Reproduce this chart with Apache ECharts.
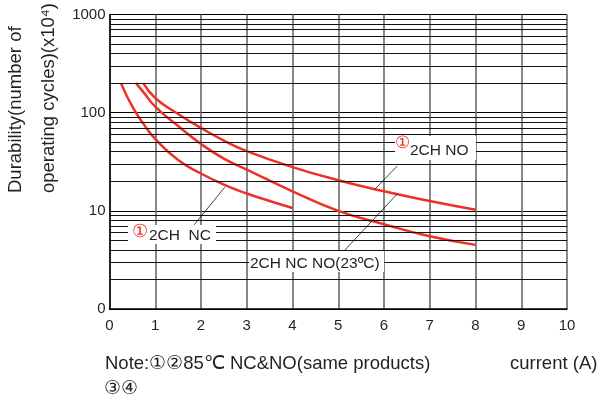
<!DOCTYPE html>
<html>
<head>
<meta charset="UTF-8">
<title>Durability vs current</title>
<script src="https://cdn.jsdelivr.net/npm/echarts@6/dist/echarts.min.js"></script>
</head>
<body style="margin:0">
<div id="main" style="width:601px;height:400px;"></div>
<script type="text/javascript">
// x axis: current (A)
var xMin = 0, xMax = 10;
// y axis: durability (x10^4), log scale, bottom labelled "0"
var yTickLabels = { 1: '0', 10: '10', 100: '100', 1000: '1000' };
var minorLines = [2, 3, 4, 5, 6, 7, 8, 9, 20, 30, 40, 50, 60, 70, 80, 90, 200, 300, 400, 500, 600, 700, 800, 900];

// 2CH NC, 85°C (lowest curve)
var nc85X = [0.25, 0.5, 0.75, 1, 1.5, 2, 2.5, 3, 3.5, 4];
var nc85Y = [200, 115, 76, 54, 33, 24, 18.5, 15, 12.6, 10.7];
// middle curve
var no85X = [0.58, 0.75, 1, 1.5, 2, 2.5, 3, 4, 5, 6, 7, 8];
var no85Y = [200, 160, 115, 73, 48, 34, 26.3, 15.8, 10, 7.3, 5.5, 4.5];
// top curve
var ncno23X = [0.74, 1, 1.5, 2, 2.5, 3, 4, 5, 6, 7, 8];
var ncno23Y = [200, 141, 97, 70, 52, 40.6, 27.9, 20.5, 15.8, 12.6, 10.25];

// leader lines [x1, y1, x2, y2] in data units
var leaders = [
    [1.85, 7.2, 2.52, 17.4],
    [6.29, 28.6, 5.8, 16.6],
    [5.08, 3.7, 6.29, 14.9]
];

function pairs(xs, ys) {
    return xs.map(function (x, i) { return [x, ys[i]]; });
}

var RED = '#ee3124';
var TXT = '#231f20';
var FONT = "'Liberation Sans', Arial, sans-serif";

function curve(name, xs, ys) {
    return {
        name: name,
        type: 'line',
        smooth: 0.5,
        symbol: 'none',
        z: 3,
        lineStyle: { color: RED, width: 2.5 },
        data: pairs(xs, ys)
    };
}

var myChart = echarts.init(document.getElementById('main'));
var option = {
    animation: false,
    backgroundColor: '#fff',
    grid: { left: 109.5, right: 34, top: 14.5, bottom: 91 },
    xAxis: {
        type: 'value',
        min: xMin,
        max: xMax,
        interval: 1,
        axisLine: { lineStyle: { color: '#000', width: 1.5 } },
        axisTick: { show: false },
        axisLabel: { color: TXT, fontSize: 15, fontFamily: FONT, margin: 9 },
        splitLine: { show: true, lineStyle: { color: '#6a6a6a', width: 1.6 } }
    },
    yAxis: {
        type: 'log',
        logBase: 10,
        min: 1,
        max: 1000,
        axisLine: { show: true, lineStyle: { color: '#000', width: 1.5 } },
        axisTick: { show: false },
        axisLabel: {
            color: TXT, fontSize: 15, fontFamily: FONT, margin: 4,
            formatter: function (v) {
                var k = Math.round(v);
                return yTickLabels[k] !== undefined ? yTickLabels[k] : '';
            }
        },
        splitLine: { show: true, lineStyle: { color: '#000', width: 1 } }
    },
    series: [
        {
            name: 'grid',
            type: 'line',
            data: [],
            z: 1,
            silent: true,
            markLine: {
                silent: true,
                symbol: 'none',
                label: { show: false },
                lineStyle: { color: '#111', width: 1, type: 'solid' },
                data: minorLines.map(function (v) { return { yAxis: v }; })
            }
        },
        curve('2CH NC 85°C', nc85X, nc85Y),
        curve('2CH NO 85°C', no85X, no85Y),
        curve('2CH NC NO 23°C', ncno23X, ncno23Y),
        {
            name: 'leaders',
            type: 'line',
            data: [],
            z: 60,
            silent: true,
            markLine: {
                silent: true,
                symbol: 'none',
                label: { show: false },
                lineStyle: { color: '#111', width: 0.8, type: 'solid' },
                data: leaders.map(function (l) {
                    return [{ coord: [l[0], l[1]] }, { coord: [l[2], l[3]] }];
                })
            }
        }
    ],
    graphic: [
        // y axis title
        {
            type: 'text', x: 16, y: 193, rotation: Math.PI / 2, z: 50,
            style: { text: 'Durability(number of', fill: TXT, fontSize: 18.5, fontFamily: FONT, align: 'left', verticalAlign: 'middle' }
        },
        {
            type: 'text', x: 48.5, y: 193, rotation: Math.PI / 2, z: 50,
            style: { text: 'operating cycles)(x10⁴)', fill: TXT, fontSize: 18.5, fontFamily: FONT, align: 'left', verticalAlign: 'middle' }
        },
        // label: 2CH NO
        { type: 'rect', z: 50, shape: { x: 395, y: 136, width: 81, height: 24 }, style: { fill: '#fff' } },
        { type: 'text', x: 395, y: 143.5, z: 51, style: { text: '①', fill: RED, fontSize: 17, fontFamily: FONT, verticalAlign: 'middle' } },
        { type: 'text', x: 410, y: 151, z: 51, style: { text: '2CH NO', fill: TXT, fontSize: 15.5, fontFamily: FONT, verticalAlign: 'middle' } },
        // label: 2CH NC
        { type: 'rect', z: 50, shape: { x: 128, y: 225, width: 88, height: 19 }, style: { fill: '#fff' } },
        { type: 'text', x: 132, y: 232.5, z: 51, style: { text: '①', fill: RED, fontSize: 18, fontFamily: FONT, verticalAlign: 'middle' } },
        { type: 'text', x: 149, y: 235.5, z: 51, style: { text: '2CH  NC', fill: TXT, fontSize: 15.5, fontFamily: FONT, verticalAlign: 'middle' } },
        // label: 2CH NC NO(23ºC)
        { type: 'rect', z: 50, shape: { x: 249, y: 251, width: 135, height: 21 }, style: { fill: '#fff' } },
        { type: 'text', x: 250, y: 263.5, z: 51, style: { text: '2CH NC NO(23ºC)', fill: TXT, fontSize: 15.5, fontFamily: FONT, verticalAlign: 'middle' } },
        // notes
        { type: 'text', x: 105, y: 363.5, z: 50, style: { text: 'Note:①②85℃ NC&NO(same products)', fill: TXT, fontSize: 18.5, fontFamily: FONT, verticalAlign: 'middle' } },
        { type: 'text', x: 510, y: 363.5, z: 50, style: { text: 'current (A)', fill: TXT, fontSize: 18.5, fontFamily: FONT, verticalAlign: 'middle' } },
        { type: 'text', x: 104, y: 389, z: 50, style: { text: '③④', fill: TXT, fontSize: 18.5, fontFamily: FONT, verticalAlign: 'middle' } }
    ]
};
myChart.setOption(option);
</script>
</body>
</html>
